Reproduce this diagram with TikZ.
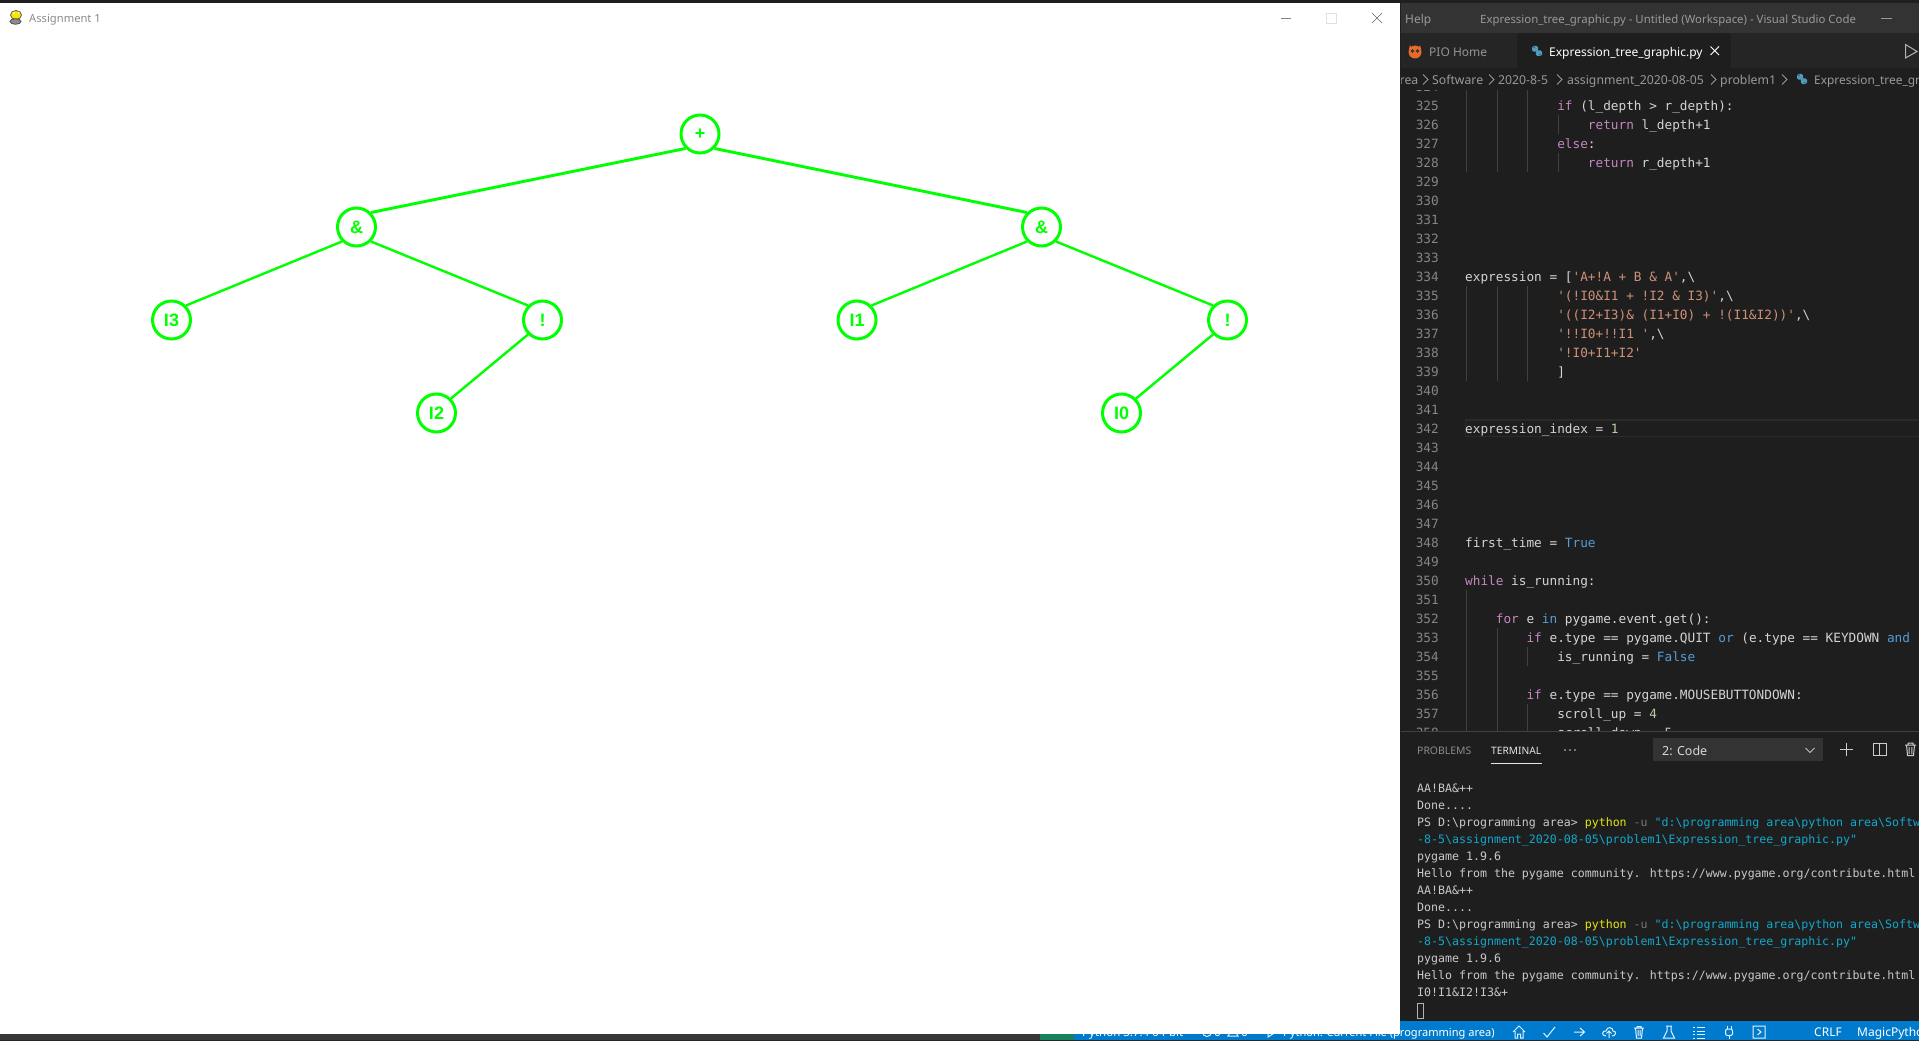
\documentclass[tikz,border=0pt]{standalone}
\usepackage{fontspec}
\usepackage{tikz}
\newfontfamily\uifont{Noto Sans}
\newfontfamily\labelfont{Liberation Sans}
\newfontfamily\codefont{DejaVu Sans Mono}
\definecolor{treegreen}{HTML}{00FF00}
\definecolor{topband}{HTML}{1E1F22}
\definecolor{titlebar}{HTML}{333333}
\definecolor{tabrow}{HTML}{252526}
\definecolor{editorbg}{HTML}{1E1E1E}
\definecolor{guide}{HTML}{404040}
\definecolor{gutter}{HTML}{858585}
\definecolor{plaincode}{HTML}{D4D4D4}
\definecolor{keyword}{HTML}{C586C0}
\definecolor{builtin}{HTML}{569CD6}
\definecolor{strcode}{HTML}{CE9178}
\definecolor{numcode}{HTML}{B5CEA8}
\definecolor{linebox}{HTML}{2A2A2A}
\definecolor{statusblue}{HTML}{007ACC}
\definecolor{statusgreen}{HTML}{16825D}
\definecolor{termyellow}{HTML}{E5E510}
\definecolor{termcyan}{HTML}{11A8CD}
\definecolor{termgray}{HTML}{767676}
\definecolor{pyblue}{HTML}{519ABA}
\definecolor{pioorange}{HTML}{E8692C}
\newcommand{\kw}[1]{\textcolor{keyword}{#1}}
\newcommand{\blt}[1]{\textcolor{builtin}{#1}}
\newcommand{\strg}[1]{\textcolor{strcode}{#1}}
\newcommand{\numb}[1]{\textcolor{numcode}{#1}}
\newcommand{\bs}{\textbackslash}
\newcommand{\prompt}{PS D:\bs programming area> \textcolor{termyellow}{python} \textcolor{termgray}{-u} \textcolor{termcyan}{"d:\bs programming area\bs python area\bs Softw}}
\newcommand{\promptb}{\textcolor{termcyan}{-8-5\bs assignment\_2020-08-05\bs problem1\bs Expression\_tree\_graphic.py"}}
\tikzset{
  x=1pt, y=-1pt,
  treenode/.style={circle, draw=treegreen, line width=3pt, minimum size=38pt, inner sep=0pt,
    text=treegreen, font=\labelfont\bfseries\fontsize{18}{18}\selectfont},
  treeedge/.style={draw=treegreen, line width=2.9pt},
  lowedge/.style={draw=treegreen, line width=2.4pt},
  lineno/.style={anchor=base east, inner sep=0pt, text=gutter, font=\codefont\fontsize{12.74}{15}\selectfont},
  codeline/.style={anchor=base west, inner sep=0pt, text=plaincode, font=\codefont\fontsize{12.74}{15}\selectfont},
  termline/.style={anchor=base west, inner sep=0pt, text=plaincode!95!black, font=\codefont\fontsize{11.6}{14}\selectfont},
  uitext/.style={anchor=base west, inner sep=0pt, font=\uifont\fontsize{12}{14}\selectfont},
  crumbtext/.style={uitext, text=white!60!black, font=\uifont\fontsize{12.25}{14}\selectfont},
  statustext/.style={uitext, text=white},
  guideline/.style={draw=guide, line width=0.8pt},
  statusicon/.style={draw=white!90!statusblue, line width=1pt},
  pyicon/.pic={
    \fill[pyblue, rounded corners=1.5pt] (-5,-5) rectangle (1.2,0.6);
    \fill[pyblue, rounded corners=1.5pt] (-1.2,-0.6) rectangle (5,5);
    \fill[editorbg] (-3,-3.8) circle (0.7pt) (3,3.8) circle (0.7pt);
  }
}
\begin{document}
\begin{tikzpicture}
\useasboundingbox (0,0) rectangle (1919,1041);

% backgrounds
\fill[topband] (0,0) rectangle (1919,1041);
\fill[black!85] (0,1040) rectangle (1919,1041);
\fill[black!78] (0,1034) rectangle (1040,1040);
\fill[statusgreen] (1040,1030) rectangle (1074,1040);
\fill[statusblue] (1074,1021) rectangle (1919,1040);
\fill[titlebar] (1401,3.5) rectangle (1919,33);
\fill[tabrow] (1401,33) rectangle (1919,68);
\fill[editorbg] (1401,68) rectangle (1919,1021);
\fill[editorbg] (1517,33) rectangle (1731,68);

% status bar texts, the window covers most of them
\node[statustext, font=\uifont\fontsize{11.5}{14}\selectfont] (pyver) at (1082,1036) {Python 3.7.4 64-bit};
\draw[statusicon] (1207,1032) circle (4.5pt);
\node[statustext] (errs) at (1214,1036) {0};
\draw[statusicon] (1228,1036)--(1233,1027)--(1238,1036)--cycle;
\node[statustext] (warns) at (1241,1036) {0};
\draw[statusicon] (1268,1027)--(1276,1032)--(1268,1037)--cycle;
\node[statustext, font=\uifont\fontsize{11.05}{14}\selectfont] (runfile) at (1283,1036.5) {Python: Current File (programming area)};
\node[statustext] (crlf) at (1814,1036.5) {CRLF};
\begin{scope}
\clip (1850,1021) rectangle (1919,1040);
\node[statustext] (magic) at (1857,1036.5) {MagicPython};
\end{scope}

% pygame window
\fill[white] (0,3.5) rectangle (1400,1034);
\node[uitext, text=black!45, font=\uifont\fontsize{11.2}{14}\selectfont] (wintitle) at (29,23) {Assignment 1};
\filldraw[draw=black!70!yellow, fill=yellow!85!orange, line width=0.8pt] (16,15) ellipse (5.5pt and 4.5pt);
\filldraw[draw=black!70, fill=black!45, line width=0.8pt] (15.5,21.5) ellipse (5.5pt and 2.8pt);
\fill[white] (14,13) circle (1pt);
\fill[white] (18.5,13) circle (1pt);
\draw[black!50] (1281,18.5)--(1291,18.5);
\draw[black!12] (1326,13.5) rectangle (1336,23.5);
\draw[black!60] (1372,13)--(1382,23) (1382,13)--(1372,23);

% the tree
\node[treenode] (root) at (700,134) {+};
\node[treenode] (andl) at (356.5,227) {\&};
\node[treenode] (andr) at (1041.5,227) {\&};
\node[treenode] (ithree) at (171.5,320) {I3};
\node[treenode] (notl) at (542.5,320) {!};
\node[treenode] (ione) at (857,320) {I1};
\node[treenode] (notr) at (1227.5,320) {!};
\node[treenode] (itwo) at (436.5,413) {I2};
\node[treenode] (izero) at (1121.5,413) {I0};
\draw[treeedge] (root.225)--(andl.45);
\draw[treeedge] (root.315)--(andr.135);
\draw[lowedge] (andl.225)--(ithree.45);
\draw[lowedge] (andl.315)--(notl.135);
\draw[lowedge] (andr.225)--(ione.45);
\draw[lowedge] (andr.315)--(notr.135);
\draw[lowedge] (notl.225)--(itwo.45);
\draw[lowedge] (notr.225)--(izero.45);

% title bar and tabs
\node[uitext, text=black!40!white] (helpmenu) at (1405,23.5) {Help};
\node[uitext, text=white!60!black, font=\uifont\fontsize{11.4}{14}\selectfont] (vstitle) at (1480,23.5) {Expression\_tree\_graphic.py - Untitled (Workspace) - Visual Studio Code};
\draw[white!60!black] (1881,18.5)--(1892,18.5);
\fill[pioorange] (1415,52) circle (6.5pt);
\fill[pioorange] (1410,45)--(1412,49)--(1409,49)--cycle (1420,45)--(1421,49)--(1418,49)--cycle;
\fill[black!80] (1412.5,51) circle (1.8pt) (1417.5,51) circle (1.8pt);
\node[uitext, text=white!58!black] (piotab) at (1429,56.5) {PIO Home};
\pic at (1537,51) {pyicon};
\node[uitext, text=white] (filetab) at (1549,56.5) {Expression\_tree\_graphic.py};
\draw[white, line width=1pt] (1710.5,46.5)--(1719,55) (1719,46.5)--(1710.5,55);
\draw[white!70!black, line width=1pt] (1905.5,44.5)--(1917,51.5)--(1905.5,58)--cycle;

% breadcrumbs
\begin{scope}
\clip (1401,68) rectangle (1919,90);
\node[crumbtext] (crumba) at (1399.5,84.5) {rea};
\node[crumbtext] (crumbb) at (1432,84.5) {Software};
\node[crumbtext] (crumbc) at (1498,84.5) {2020-8-5};
\node[crumbtext] (crumbd) at (1567,84.5) {assignment\_2020-08-05};
\node[crumbtext] (crumbe) at (1720,84.5) {problem1};
\pic at (1802,79) {pyicon};
\node[crumbtext, font=\uifont\fontsize{11.9}{14}\selectfont] (crumbf) at (1814,84.5) {Expression\_tree\_gr};
\foreach \cx in {1423,1489,1557,1711,1782}
  \draw[white!60!black, line width=0.8pt] (\cx,74.5)--(\cx+5,79.5)--(\cx,84.5);
\end{scope}

% editor
\begin{scope}
\clip (1401,90) rectangle (1919,731);
\fill[linebox] (1465,419) rectangle (1919,437);
\fill[editorbg] (1466,420.5) rectangle (1919,435.5);
\foreach \gx in {1466,1497,1527}
  \draw[guideline] (\gx,90)--(\gx,172) (\gx,286)--(\gx,381);
\draw[guideline] (1558,115)--(1558,134) (1558,153)--(1558,172);
\draw[guideline] (1466,590)--(1466,731);
\draw[guideline] (1497,628)--(1497,731);
\draw[guideline] (1527,647)--(1527,666) (1527,704)--(1527,731);
\foreach \ln in {324,...,358}
  \node[lineno] (num\ln) at (1439,{110.3+19*(\ln-325)}) {\ln};
\foreach \ln/\ind/\txt in {
  325/12/{\kw{if} (l\_depth > r\_depth):},
  326/16/{\kw{return} l\_depth+1},
  327/12/{\kw{else}:},
  328/16/{\kw{return} r\_depth+1},
  334/0/{expression = [\strg{'A+!A + B \& A'},\bs},
  335/12/{\strg{'(!I0\&I1 + !I2 \& I3)'},\bs},
  336/12/{\strg{'((I2+I3)\& (I1+I0) + !(I1\&I2))'},\bs},
  337/12/{\strg{'!!I0+!!I1 '},\bs},
  338/12/{\strg{'!I0+I1+I2'}},
  339/12/{]},
  342/0/{expression\_index = \numb{1}},
  348/0/{first\_time = \blt{True}},
  350/0/{\kw{while} is\_running:},
  352/4/{\kw{for} e \blt{in} pygame.event.get():},
  353/8/{\kw{if} e.type == pygame.QUIT \blt{or} (e.type == KEYDOWN \blt{and}},
  354/12/{is\_running = \blt{False}},
  356/8/{\kw{if} e.type == pygame.MOUSEBUTTONDOWN:},
  357/12/{scroll\_up = \numb{4}},
  358/12/{scroll\_down = \numb{5}}}
  \node[codeline] (code\ln) at ({1465+7.67*\ind},{110.3+19*(\ln-325)}) {\txt};
\end{scope}

% terminal panel
\fill[editorbg] (1401,731) rectangle (1919,1021);
\draw[guide] (1401,731.5)--(1919,731.5);
\node[uitext, text=white!55!black, font=\uifont\fontsize{10.4}{12}\selectfont] (problems) at (1417,754) {PROBLEMS};
\node[uitext, text=white!90!black, font=\uifont\fontsize{10.2}{12}\selectfont] (terminal) at (1491,754) {TERMINAL};
\draw[white!90!black] (1491,763.5)--(1542,763.5);
\fill[white!80!black] (1565,750) circle (0.9pt) (1570,750) circle (0.9pt) (1575,750) circle (0.9pt);
\fill[black!80!white] (1653,738) rectangle (1823,761);
\node[uitext, text=white!85!black, font=\uifont\fontsize{12.5}{14}\selectfont] (shellname) at (1662,755) {2: Code};
\draw[white!75!black, line width=0.9pt] (1805.5,748)--(1810,752.5)--(1814.5,748);
\draw[white!80!black, line width=1pt] (1840,749)--(1853,749) (1846.5,742.5)--(1846.5,755.5);
\draw[white!80!black, line width=1pt] (1873.5,743.5) rectangle (1886,755) (1879.7,743.5)--(1879.7,755);
\draw[white!80!black, line width=1pt] (1905,745)--(1916,745) (1908,745)--(1908,743)--(1913,743)--(1913,745)
  (1906.5,745)--(1907.5,755.5)--(1913.5,755.5)--(1914.5,745) (1909.2,747)--(1909.2,754) (1911.8,747)--(1911.8,754);
\begin{scope}
\clip (1401,775) rectangle (1919,1021);
\foreach \tn/\txt in {
  0/{AA!BA\&++},
  1/{Done....},
  2/{\prompt},
  3/{\promptb},
  4/{pygame 1.9.6},
  5/{Hello from the pygame community. https://www.pygame.org/contribute.html},
  6/{AA!BA\&++},
  7/{Done....},
  8/{\prompt},
  9/{\promptb},
  10/{pygame 1.9.6},
  11/{Hello from the pygame community. https://www.pygame.org/contribute.html},
  12/{I0!I1\&I2!I3\&+}}
  \node[termline] (term\tn) at (1417,{792.7+17*\tn}) {\txt};
\end{scope}
\draw[white!70!black, line width=0.9pt] (1417.5,1003) rectangle (1423.5,1018);

% status bar icons
\draw[statusicon] (1513,1032)--(1519,1026)--(1525,1032) (1515,1031)--(1515,1038)--(1517.5,1038)--(1517.5,1034)--(1520.5,1034)--(1520.5,1038)--(1523,1038)--(1523,1031);
\draw[statusicon] (1543.5,1033)--(1547,1037)--(1555,1027);
\draw[statusicon] (1574,1032)--(1584,1032) (1580,1028)--(1584.5,1032)--(1580,1036);
\draw[statusicon] (1606,1036) .. controls (1601,1036) and (1602,1030) .. (1606,1031) .. controls (1607,1026) and (1613,1027) .. (1613,1031) .. controls (1617,1031) and (1616,1036) .. (1612,1036) (1609,1038)--(1609,1031) (1606.5,1033.5)--(1609,1031)--(1611.5,1033.5);
\draw[statusicon] (1634,1028)--(1644,1028) (1637,1028)--(1637,1026.5)--(1641,1026.5)--(1641,1028) (1635.5,1028)--(1636.5,1038)--(1641.5,1038)--(1642.5,1028) (1638,1030)--(1638,1036) (1640,1030)--(1640,1036);
\draw[statusicon] (1666,1026)--(1672,1026) (1667,1026)--(1667,1031)--(1663.5,1038)--(1674.5,1038)--(1671,1031)--(1671,1026);
\draw[statusicon] (1697,1027.5)--(1705,1027.5) (1697,1031)--(1705,1031) (1697,1034.5)--(1705,1034.5) (1697,1038)--(1705,1038) (1693,1027.5)--(1695,1027.5) (1693,1031)--(1695,1031) (1693,1034.5)--(1695,1034.5) (1693,1038)--(1695,1038);
\draw[statusicon] (1727,1026)--(1727,1029) (1731,1026)--(1731,1029) (1729,1035.5)--(1729,1038.5);
\draw[statusicon, rounded corners=2pt] (1725.5,1029) rectangle (1732.5,1035.5);
\draw[statusicon] (1753,1026) rectangle (1765,1038) (1757.5,1029)--(1761,1032)--(1757.5,1035);
\end{tikzpicture}
\end{document}
